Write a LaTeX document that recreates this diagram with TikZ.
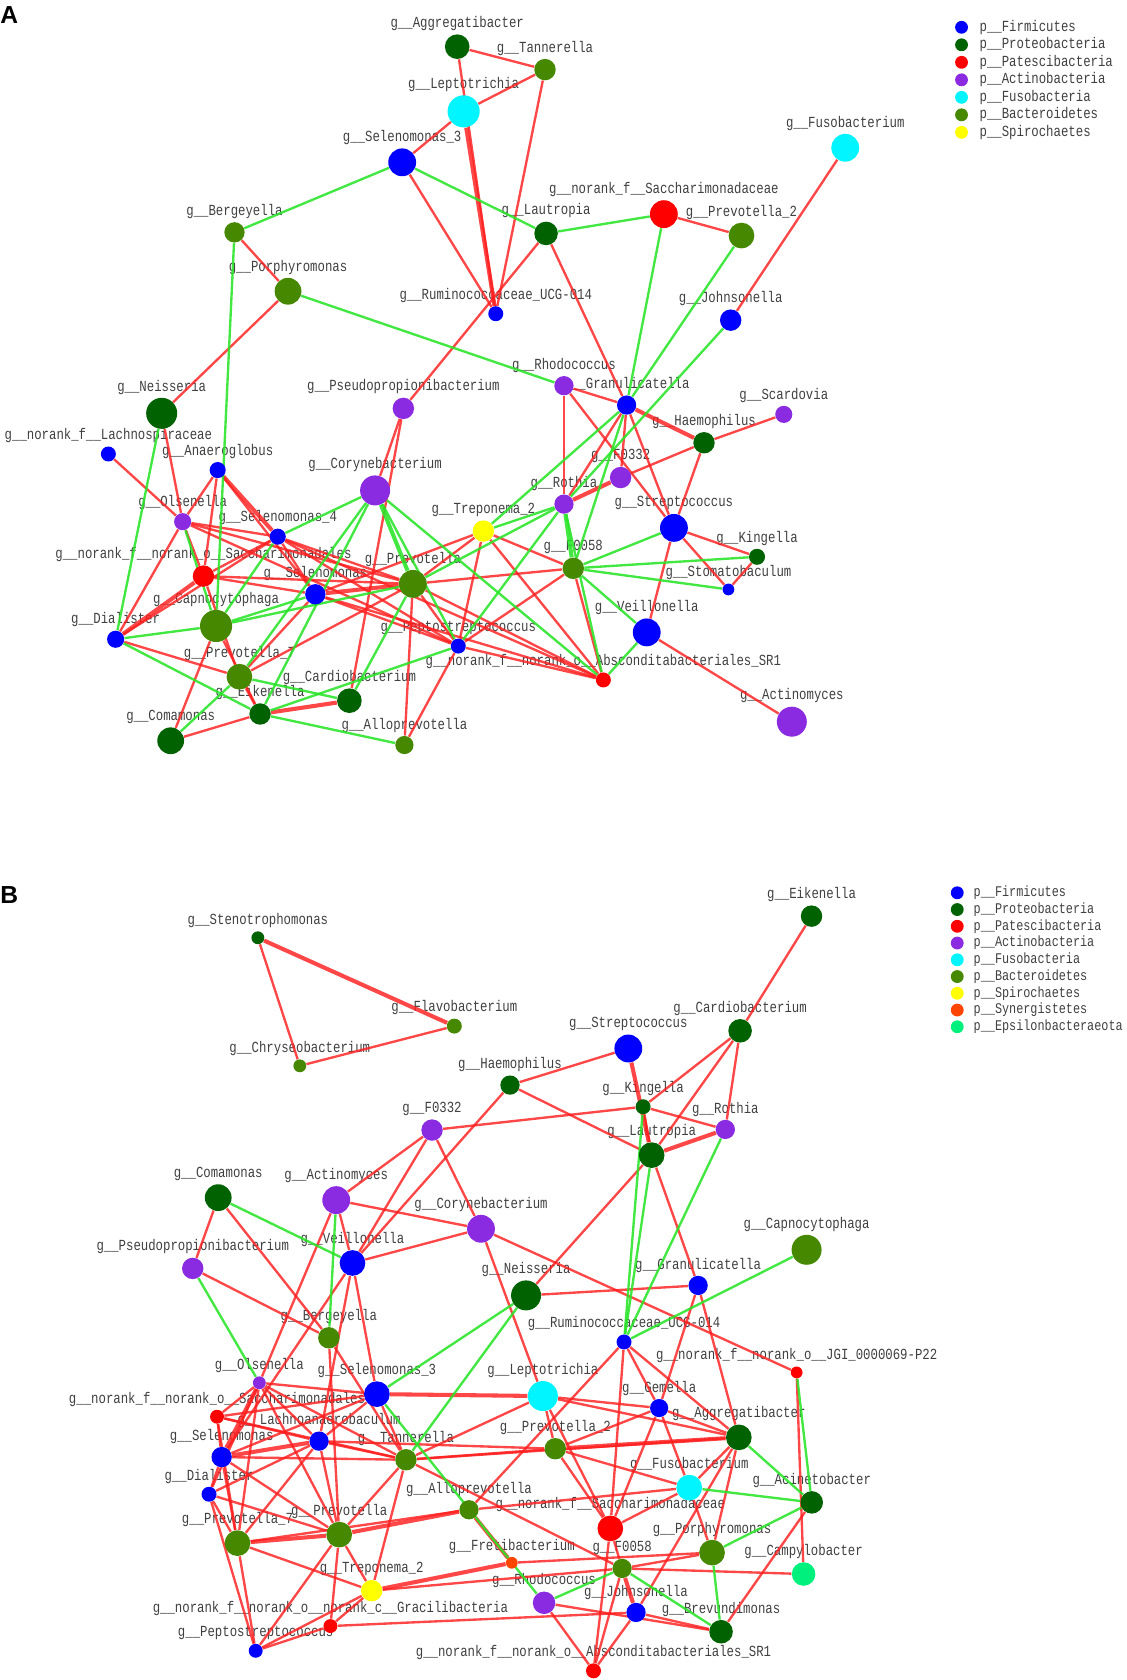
\documentclass[tikz,border=0pt]{standalone}
\usepackage{fontspec}
\setmainfont{Liberation Serif}
\setsansfont{Liberation Sans}
\newfontfamily\lblfont[FakeStretch=0.8]{Liberation Mono}
\usetikzlibrary{positioning}

% phylum colours
\definecolor{cFirm}{RGB}{0,0,255}
\definecolor{cProt}{RGB}{0,98,0}
\definecolor{cPate}{RGB}{255,0,0}
\definecolor{cActi}{RGB}{138,43,226}
\definecolor{cFuso}{RGB}{0,245,255}
\definecolor{cBact}{RGB}{70,137,0}
\definecolor{cSpir}{RGB}{255,255,0}
\definecolor{cSyne}{RGB}{255,69,0}
\definecolor{cEpsi}{RGB}{0,240,125}
\definecolor{cPos}{RGB}{255,30,30}
\definecolor{cNeg}{RGB}{40,228,40}
\definecolor{cText}{RGB}{64,64,64}

\pgfdeclarelayer{labels}
\pgfdeclarelayer{edges}
\pgfsetlayers{labels,edges,main}

\tikzset{
  genusdot/.style={circle, inner sep=0pt, draw=none},
  genuslabel/.style={font=\fontsize{7.2}{8}\selectfont\lblfont, text=cText, inner sep=0pt},
  posedge/.style={draw=cPos, line width=1.1pt, opacity=0.82},
  negedge/.style={draw=cNeg, line width=1.1pt, opacity=0.88},
  heavy/.style={line width=1.9pt},
  legdot/.style={circle, inner sep=0pt, minimum size=6pt},
  legtext/.style={genuslabel, anchor=west},
  panelletter/.style={font=\sffamily\bfseries\fontsize{11.5}{11.5}\selectfont, anchor=north west, inner sep=0pt}
}

% name, x, y, radius, colour, genus
\newcommand\genus[6]{%
  \node[genusdot, fill=#5, minimum size=#4pt] (#1) at (#2,#3) {};
  \begin{pgfonlayer}{labels}
    \node[genuslabel] (#1-l) at (#2,#3-#4-10) {g\_\_#6};
  \end{pgfonlayer}}

\begin{document}
\catcode`\_=12
\begin{tikzpicture}[x=0.5pt, y=-0.5pt]
\useasboundingbox (0,0) rectangle (1052,1569);

\node[panelletter] (pA) at (0,5.6) {A};
\node[panelletter] (pB) at (0,828) {B};

% ---- network A
\genus{aagg}{427}{43.6}{11.5}{cProt}{Aggregatibacter}
\genus{atan}{509}{65}{10}{cBact}{Tannerella}
\genus{alep}{433}{104}{15}{cFuso}{Leptotrichia}
\genus{asel3}{375.6}{151.6}{13}{cFirm}{Selenomonas_3}
\genus{afus}{789.4}{138}{13}{cFuso}{Fusobacterium}
\genus{asac}{620}{200}{13}{cPate}{norank_f__Saccharimonadaceae}
\genus{apre2}{692.5}{220}{12}{cBact}{Prevotella_2}
\genus{alau}{510}{218}{11}{cProt}{Lautropia}
\genus{aber}{219}{217}{9.5}{cBact}{Bergeyella}
\genus{apor}{269}{272}{12.5}{cBact}{Porphyromonas}
\genus{arum}{463}{293}{7}{cFirm}{Ruminococcaceae_UCG-014}
\genus{ajoh}{682.4}{299}{10}{cFirm}{Johnsonella}
\genus{anei}{151}{386}{14.5}{cProt}{Neisseria}
\genus{arho}{526.7}{360.2}{9}{cActi}{Rhodococcus}
\genus{apse}{376.7}{381.4}{10}{cActi}{Pseudopropionibacterium}
\genus{agra}{585.2}{378.3}{9}{cFirm}{Granulicatella}
\genus{asca}{732}{387}{8}{cActi}{Scardovia}
\genus{ahae}{657.5}{413.5}{10}{cProt}{Haemophilus}
\genus{alac}{101.2}{424}{7}{cFirm}{norank_f__Lachnospiraceae}
\genus{aana}{203.3}{439}{7.5}{cFirm}{Anaeroglobus}
\genus{acor}{350.3}{458}{14}{cActi}{Corynebacterium}
\genus{af0332}{579.6}{446}{10}{cActi}{F0332}
\genus{arot}{526.7}{470.8}{9}{cActi}{Rothia}
\genus{astr}{629.4}{493}{13}{cFirm}{Streptococcus}
\genus{atre}{451.4}{496}{10}{cSpir}{Treponema_2}
\genus{aols}{170.6}{487.2}{8}{cActi}{Olsenella}
\genus{asel4}{259.4}{501.2}{7.5}{cFirm}{Selenomonas_4}
\genus{akin}{707}{520}{7.5}{cProt}{Kingella}
\genus{asao}{190}{538}{10}{cPate}{norank_f__norank_o__Saccharimonadales}
\genus{af0058}{535.4}{530.8}{10}{cBact}{F0058}
\genus{apre}{385.6}{545.3}{13}{cBact}{Prevotella}
\genus{asto}{680.3}{550.5}{5.5}{cFirm}{Stomatobaculum}
\genus{asel}{294.5}{555}{9.5}{cFirm}{Selenomonas}
\genus{acap}{201.8}{584.6}{15}{cBact}{Capnocytophaga}
\genus{adia}{108}{597}{8}{cFirm}{Dialister}
\genus{avei}{604}{590.6}{13}{cFirm}{Veillonella}
\genus{apep}{428}{603.4}{7}{cFirm}{Peptostreptococcus}
\genus{asr1}{563.5}{635}{7}{cPate}{norank_f__norank_o__Absconditabacteriales_SR1}
\genus{apre7}{223.6}{632}{12}{cBact}{Prevotella_7}
\genus{acar}{326.3}{654.4}{11.5}{cProt}{Cardiobacterium}
\genus{aact}{739.5}{674}{14}{cActi}{Actinomyces}
\genus{aeik}{242.9}{666.8}{10}{cProt}{Eikenella}
\genus{acom}{159.4}{691.8}{12.5}{cProt}{Comamonas}
\genus{aall}{377.7}{695.8}{8.5}{cBact}{Alloprevotella}

% ---- network B
\genus{bste}{240.8}{875.8}{6}{cProt}{Stenotrophomonas}
\genus{bfla}{424.3}{958.3}{7}{cBact}{Flavobacterium}
\genus{bchr}{280}{995.4}{6}{cBact}{Chryseobacterium}
\genus{beik}{757.9}{855.6}{10}{cProt}{Eikenella}
\genus{bcar}{691.2}{962.7}{11}{cProt}{Cardiobacterium}
\genus{bstr}{586.8}{979.2}{13}{cFirm}{Streptococcus}
\genus{bhae}{476.3}{1013.4}{9}{cProt}{Haemophilus}
\genus{bkin}{600.6}{1033.6}{7}{cProt}{Kingella}
\genus{brot}{677.4}{1054.8}{9}{cActi}{Rothia}
\genus{bf0332}{403.5}{1055.4}{10}{cActi}{F0332}
\genus{blau}{608.6}{1078.8}{12}{cProt}{Lautropia}
\genus{bcom}{203.8}{1118.5}{12.5}{cProt}{Comamonas}
\genus{bacm}{314}{1120.8}{13}{cActi}{Actinomyces}
\genus{bcor}{449.2}{1147.6}{13}{cActi}{Corynebacterium}
\genus{bcap}{753.3}{1167.2}{14}{cBact}{Capnocytophaga}
\genus{bpse}{180}{1184.6}{10}{cActi}{Pseudopropionibacterium}
\genus{bvei}{329.2}{1179.5}{12}{cFirm}{Veillonella}
\genus{bnei}{491.3}{1209.8}{14}{cProt}{Neisseria}
\genus{bgra}{652}{1200.5}{9}{cFirm}{Granulicatella}
\genus{bber}{307.1}{1249.4}{10}{cBact}{Bergeyella}
\genus{brum}{582.8}{1253.3}{7}{cFirm}{Ruminococcaceae_UCG-014}
\genus{bjgi}{744}{1281.7}{5.5}{cPate}{norank_f__norank_o__JGI_0000069-P22}
\genus{bols}{242.2}{1291.4}{6}{cActi}{Olsenella}
\genus{bsel3}{352}{1302}{12}{cFirm}{Selenomonas_3}
\genus{blep}{507}{1303.8}{14}{cFuso}{Leptotrichia}
\genus{bgem}{615.6}{1315}{8.5}{cFirm}{Gemella}
\genus{bsao}{202.7}{1323.1}{6.5}{cPate}{norank_f__norank_o__Saccharimonadales}
\genus{blach}{298}{1345.9}{9}{cFirm}{Lachnoanaerobaculum}
\genus{bagg}{690}{1342.4}{12}{cProt}{Aggregatibacter}
\genus{bsel}{207}{1360.8}{9.5}{cFirm}{Selenomonas}
\genus{btan}{379.1}{1363.3}{10}{cBact}{Tannerella}
\genus{bpre2}{518.6}{1353}{10}{cBact}{Prevotella_2}
\genus{bdia}{195.2}{1395.5}{7}{cFirm}{Dialister}
\genus{bfus}{643.7}{1389.3}{12}{cFuso}{Fusobacterium}
\genus{bacin}{758.1}{1403.1}{10.5}{cProt}{Acinetobacter}
\genus{ball}{438}{1410}{9}{cBact}{Alloprevotella}
\genus{bpre7}{221.8}{1441.2}{12}{cBact}{Prevotella_7}
\genus{bpre}{316.8}{1433.2}{12}{cBact}{Prevotella}
\genus{bsac}{570}{1427.4}{12}{cPate}{norank_f__Saccharimonadaceae}
\genus{bpor}{665}{1450}{12}{cBact}{Porphyromonas}
\genus{bcam}{750.5}{1470}{11}{cEpsi}{Campylobacter}
\genus{bfre}{478}{1459.5}{5.5}{cSyne}{Fretibacterium}
\genus{bf0058}{581}{1464.8}{9}{cBact}{F0058}
\genus{btre}{347.1}{1485.6}{10}{cSpir}{Treponema_2}
\genus{brho}{508.1}{1496.9}{10.5}{cActi}{Rhodococcus}
\genus{bjoh}{594}{1505.9}{9}{cFirm}{Johnsonella}
\genus{bgrac}{308.6}{1518.6}{6.5}{cPate}{norank_f__norank_o__norank_c__Gracilibacteria}
\genus{bbre}{673.4}{1523.9}{11}{cProt}{Brevundimonas}
\genus{bpep}{238.8}{1541.7}{6.5}{cFirm}{Peptostreptococcus}
\genus{bsr1}{554.3}{1560.4}{7}{cPate}{norank_f__norank_o__Absconditabacteriales_SR1}

\begin{pgfonlayer}{edges}
% A: positive
\foreach \u/\v in {aagg/atan, aagg/arum, atan/alep, atan/arum, alep/asel3, asel3/arum,
  alau/apse, alau/agra, asac/apre2, ajoh/afus, aber/apor, apor/anei, anei/aols, alac/aols,
  aana/aols, aana/asao, aana/asel, aols/asel4, aols/asao, aols/adia, aols/apre, aols/apep,
  asel4/asao, asel4/apre, asel4/apep, asel4/asr1, asel4/asel, asao/asel, asao/apre, asao/apre7,
  adia/asel4, adia/apre7, acap/acom, acap/aeik, asel/apre7, asel/apep, asel/asr1, apre/apre7,
  apre/aall, apre/apep, apre/asr1, apre/atre, apre/af0058, atre/asel, atre/af0058, atre/asr1,
  atre/apep, apep/aall, apep/asr1, apep/af0058, apse/acor, apse/acar, aeik/acom, apre7/aeik,
  arho/agra, arho/arot, arho/astr, agra/arot, agra/af0332, agra/astr, af0332/ahae, ahae/astr,
  ahae/asca, astr/akin, astr/asto, astr/avei, asto/akin, af0058/asr1, avei/aact}
  \draw[posedge] (\u) -- (\v);
\foreach \u/\v in {alep/arum, aana/asel4, asao/adia, asel/apre, aeik/acar, agra/ahae, arot/af0332}
  \draw[posedge, heavy] (\u) -- (\v);
% A: negative
\foreach \u/\v in {asel3/aber, asel3/alau, alau/asac, asac/agra, apre2/agra, ajoh/arot,
  aber/acap, apor/arho, anei/adia, aols/acap, asel4/acor, asel4/acap, acap/adia, acap/asel,
  acap/apre, acor/apre7, acor/aeik, acor/apep, acor/asr1, apre/acar, apre/arot, agra/atre,
  agra/af0058, atre/arot, arot/apep, arot/asr1, astr/af0058, af0058/akin, af0058/asto,
  af0058/avei, avei/asr1, apep/aeik, adia/aeik, aeik/aall, apre7/acom, apre7/acar}
  \draw[negedge] (\u) -- (\v);
\foreach \u/\v in {acor/apre, arot/af0058}
  \draw[negedge, heavy] (\u) -- (\v);

% B: positive
\foreach \u/\v in {bste/bchr, bchr/bfla, beik/bcar, bcar/bkin, bcar/blau, bcar/brot,
  bstr/bhae, bkin/blau, bkin/brot, bkin/bf0332, bhae/blau, bhae/bvei, bf0332/bacm,
  bf0332/bvei, bf0332/bcor, blau/bnei, blau/bgra, bgra/bagg, bgra/bnei, bgra/bgem,
  bcor/bjgi, bcor/blep, bcor/bacm, bcor/bvei, bacm/bvei, bacm/bols, bcom/bpse, bcom/bber,
  bpse/bber, bber/btan, bber/bpre, bvei/bsel3, bvei/blach, bvei/bsel, bsel3/bols, bsel3/bsao,
  bsel3/bsel, bsel3/blach, bsel3/btan, bols/blach, bols/btan, bols/bsao, bols/bdia,
  bols/bpre7, bols/bpre, bsao/blach, bsao/btan, bsao/bsel, bsao/bpre7, bsel/btan, bsel/bdia,
  bsel/bpre7, bsel/bpre, bdia/blach, bdia/bpre7, bdia/bpre, bdia/bpep, blach/bpre,
  blach/bpre7, blach/btan, blach/bpre2, btan/bpre, btan/btre, btan/blep, btan/bpre2,
  btan/bf0058, btan/bagg, bpre/btre, bpre/bgrac, bpre/bpep, bpre7/btre, bpre7/bpep,
  bpre7/ball, btre/bgrac, btre/bpep, btre/bf0058, bgrac/bpep, bgrac/bjoh, ball/brum,
  ball/bfus, blep/bgem, blep/bagg, blep/bpre2, blep/bsac, bgem/bpre2, bgem/bagg, bgem/bfus,
  bgem/bsac, brum/bgem, brum/bagg, brum/bsac, bagg/bfus, bagg/bpor, bagg/bjoh, bpre2/bfus,
  bpre2/bsac, bfus/bpor, bfus/bsac, bpor/bf0058, bfre/bpor, bcam/bf0058, bjgi/bcam,
  bacin/bbre, bsac/bf0058, bsac/bsr1, bf0058/bsr1, bjoh/bsr1, bjoh/bbre, brho/bbre, brho/bsr1}
  \draw[posedge] (\u) -- (\v);
\foreach \u/\v in {bste/bfla, bstr/blau, blau/brot, bsel3/blep, bols/bsel, bsel/blach,
  bpre/bpre7, bpre/ball, btre/bfre, ball/bfre, bagg/bpre2, bf0058/bjoh}
  \draw[posedge, heavy] (\u) -- (\v);
% B: negative
\foreach \u/\v in {bacm/bber, bcom/bvei, bpse/bols, bsel3/bnei, btan/bnei, bsel3/brho,
  bkin/brum, blau/brum, brot/brum, bcap/brum, bagg/bacin, bacin/bjgi, bacin/bfus,
  bacin/bpor, bpor/bbre, bf0058/bbre, bf0058/brho}
  \draw[negedge] (\u) -- (\v);
\end{pgfonlayer}

% legends
\foreach \c/\t [count=\i from 0] in {cFirm/Firmicutes, cProt/Proteobacteria,
  cPate/Patescibacteria, cActi/Actinobacteria, cFuso/Fusobacteria, cBact/Bacteroidetes,
  cSpir/Spirochaetes} {
  \node[legdot, fill=\c] (la\i) at (898,25.5+16.35*\i) {};
  \node[legtext] (lat\i) at (914.5,25.5+16.35*\i) {p\_\_\t};
}
\foreach \c/\t [count=\i from 0] in {cFirm/Firmicutes, cProt/Proteobacteria,
  cPate/Patescibacteria, cActi/Actinobacteria, cFuso/Fusobacteria, cBact/Bacteroidetes,
  cSpir/Spirochaetes, cSyne/Synergistetes, cEpsi/Epsilonbacteraeota} {
  \node[legdot, fill=\c] (lb\i) at (894,833.8+15.64*\i) {};
  \node[legtext, font=\fontsize{6.9}{8}\selectfont\lblfont] (lbt\i) at (909,833.8+15.64*\i) {p\_\_\t};
}
\end{tikzpicture}
\end{document}
